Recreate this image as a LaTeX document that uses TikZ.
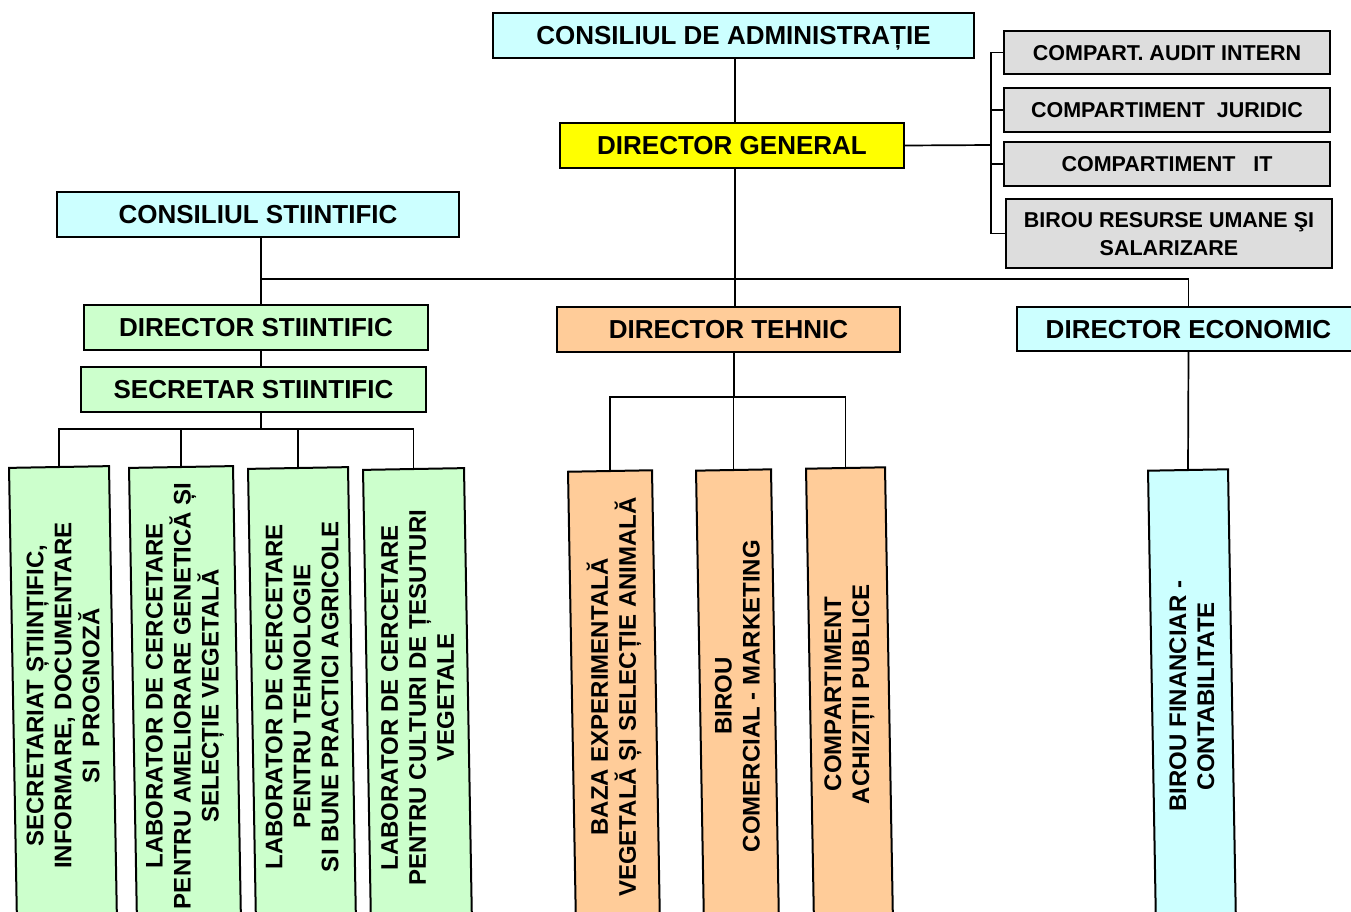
\documentclass[tikz,border=0pt]{standalone}
\usepackage{fontspec}
\setmainfont{Liberation Sans}
\usetikzlibrary{calc}
\definecolor{cCyan}{HTML}{CCFFFF}
\definecolor{cYellow}{HTML}{FFFF00}
\definecolor{cGreen}{HTML}{CCFFCC}
\definecolor{cOrange}{HTML}{FFCC99}
\definecolor{cGray}{HTML}{DDDDDD}
\tikzset{
  hbox/.style={draw=black, line width=1.2pt, inner sep=0pt, align=center, text depth=0pt,
    font=\fontsize{26}{30}\selectfont\bfseries},
  sbox/.style={draw=black, line width=1.2pt, inner sep=0pt, align=center, fill=cGray, text depth=0pt,
    minimum width=326pt, font=\fontsize{21.5}{28}\selectfont\bfseries},
  vbox/.style={draw=black, line width=2pt, inner sep=0pt, anchor=north, rotate=1,
    minimum height=520pt},
  vtext/.style={rotate=90, align=center, inner sep=0pt,
    font=\fontsize{24}{28}\selectfont\bfseries},
  conn/.style={draw=black, line width=1.7pt}
}
\begin{document}
\begin{tikzpicture}[x=1pt, y=-1pt]
\useasboundingbox (0,0) rectangle (1351,911);
\clip (0,0) rectangle (1351,911);
\fill[white] (0,0) rectangle (1351,911);

% top level
\node[hbox, fill=cCyan, minimum width=481pt, minimum height=45pt] (CA) at (733.5,35.5) {CONSILIUL DE ADMINISTRAȚIE};
\node[hbox, fill=cYellow, minimum width=344pt, minimum height=45pt] (DG) at (732,145.5) {DIRECTOR GENERAL};

% staff boxes
\node[sbox, minimum height=43pt] (AU) at (1167,52.5) {COMPART. AUDIT INTERN};
\node[sbox, minimum height=44pt] (JU) at (1167,110) {COMPARTIMENT\ \ JURIDIC};
\node[sbox, minimum height=44pt] (IT) at (1167,164) {COMPARTIMENT\ \ \ IT};
\node[sbox, minimum height=69pt] (RU) at (1169,233.5) {BIROU RESURSE UMANE ŞI\\SALARIZARE};

% second level
\node[hbox, fill=cCyan, minimum width=402pt, minimum height=45pt] (CS) at (258,214.5) {CONSILIUL STIINTIFIC};
\node[hbox, fill=cGreen, minimum width=344pt, minimum height=45pt] (DS) at (256,327.5) {DIRECTOR STIINTIFIC};
\node[hbox, fill=cGreen, minimum width=345pt, minimum height=45pt] (SS) at (253.5,389.5) {SECRETAR STIINTIFIC};
\node[hbox, fill=cOrange, minimum width=343pt, minimum height=45pt] (DT) at (728.5,329.5) {DIRECTOR TEHNIC};
\node[hbox, fill=cCyan, minimum width=343pt, minimum height=44pt] (DE) at (1188.5,329) {DIRECTOR ECONOMIC};

% vertical boxes
\node[vbox, fill=cGreen, minimum width=100pt] (g1) at (59,466) {};
\node[vbox, fill=cGreen, minimum width=104pt] (g2) at (181,466) {};
\node[vbox, fill=cGreen, minimum width=100pt] (g3) at (298,467) {};
\node[vbox, fill=cGreen, minimum width=101pt] (g4) at (413.5,468) {};
\node[vbox, fill=cOrange, minimum width=84pt] (o1) at (610,470) {};
\node[vbox, fill=cOrange, minimum width=75pt] (o2) at (733.5,469) {};
\node[vbox, fill=cOrange, minimum width=79pt] (o3) at (845.5,467) {};
\node[vbox, fill=cCyan, minimum width=80pt] (c1) at (1188,469) {};

\node[vtext] (tg1) at ($(g1.north)!0.44!(g1.south)$) {SECRETARIAT ȘTIINȚIFIC,\\INFORMARE, DOCUMENTARE\\SI\ \ PROGNOZĂ};
\node[vtext] (tg2) at ($(g2.north)!0.44!(g2.south)$) {LABORATOR DE CERCETARE\\PENTRU AMELIORARE GENETICĂ ȘI\\SELECȚIE VEGETALĂ};
\node[vtext] (tg3) at ($(g3.north)!0.44!(g3.south)$) {LABORATOR DE CERCETARE\\PENTRU TEHNOLOGIE\\SI BUNE PRACTICI AGRICOLE};
\node[vtext] (tg4) at ($(g4.north)!0.44!(g4.south)$) {LABORATOR DE CERCETARE\\PENTRU CULTURI DE ȚESUTURI\\VEGETALE};
\node[vtext] (to1) at ($(o1.north)!0.435!(o1.south)$) {BAZA EXPERIMENTALĂ\\VEGETALĂ ȘI SELECȚIE ANIMALĂ};
\node[vtext] (to2) at ($(o2.north)!0.435!(o2.south)$) {BIROU\\COMERCIAL - MARKETING};
\node[vtext] (to3) at ($(o3.north)!0.435!(o3.south)$) {COMPARTIMENT\\ACHIZIȚII PUBLICE};
\node[vtext] (tc1) at ($(c1.north)!0.435!(c1.south)$) {BIROU FINANCIAR -\\CONTABILITATE};

% connectors
\coordinate (spine) at (735,279);
\coordinate (lsp) at (261,279);
\coordinate (brk) at (991,145);
\coordinate (gbar) at (261,429);
\coordinate (obar) at (734,397);

\draw[conn] (CA.south -| spine) -- (DG.north -| spine);
\draw[conn] (DG.south -| spine) -- (DT.north -| spine);
\draw[conn] (DG.east) -- (brk);
\draw[conn] (AU.west) -| (brk) |- (RU.west);
\draw[conn] (JU.west) -- (JU.west -| brk);
\draw[conn] (IT.west) -- (IT.west -| brk);

\draw[conn] (CS.south -| lsp) -- (DS.north -| lsp);
\draw[conn] (DS.south -| lsp) -- (SS.north -| lsp);
\draw[conn] (lsp) -| (DE.north);

\draw[conn] (SS.south -| gbar) -- (gbar);
\draw[conn] (g1.north) -- (g1.north |- gbar) -- (g4.north |- gbar) -- (g4.north);
\draw[conn] (g2.north) -- (g2.north |- gbar);
\draw[conn] (g3.north) -- (g3.north |- gbar);

\draw[conn] (DT.south -| obar) -- (obar);
\draw[conn] (o1.north) -- (o1.north |- obar) -- (o3.north |- obar) -- (o3.north);
\draw[conn] (o2.north) -- (o2.north |- obar);

\draw[conn] (DE.south) -- (c1.north);
\end{tikzpicture}
\end{document}
